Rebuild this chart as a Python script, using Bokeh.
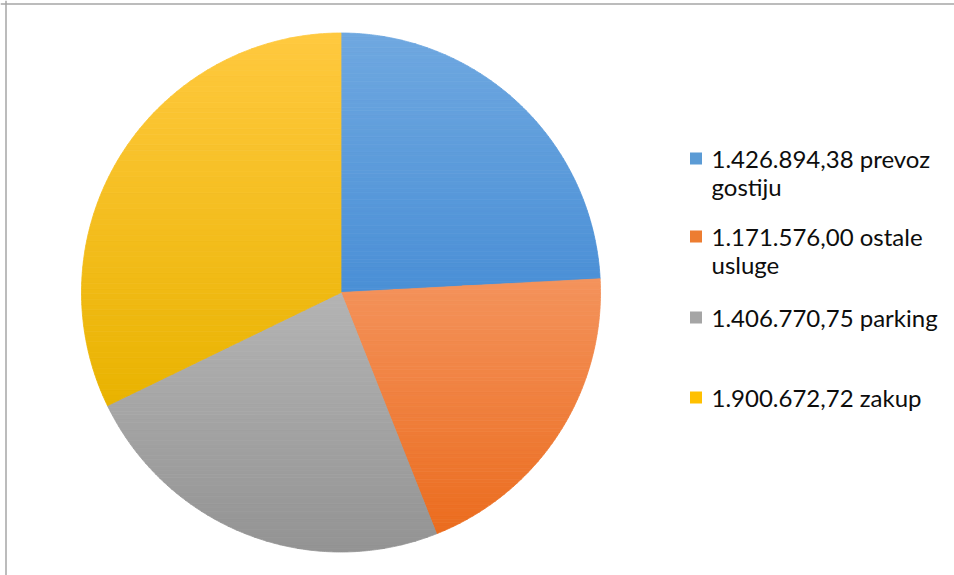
import numpy as np
from bokeh.plotting import figure
from bokeh.models import Range1d, Span
from bokeh.core.properties import value
from bokeh.embed import file_html
from bokeh.resources import INLINE

# ---------------- data ----------------
categories = ["prevoz gostiju", "ostale usluge", "parking", "zakup"]
amounts = [1426894.38, 1171576.00, 1406770.75, 1900672.72]

# ---------------- style ----------------
top_colors = ["#6FA8E0", "#F4935C", "#B4B4B4", "#FFC93F"]
bottom_colors = ["#4A8FD6", "#EB6C1E", "#939393", "#E9B300"]
mid_colors = ["#5B9BD5", "#ED7D31", "#A5A5A5", "#FFC000"]

W, H = 954, 575
OX, OY = 0, 0   # screen position of the figure's top-left corner


def fmt(v):
    s = f"{v:,.2f}"
    return s.replace(",", "X").replace(".", ",").replace("X", ".")


def hex2rgb(h):
    h = h.lstrip("#")
    return np.array([int(h[i:i + 2], 16) for i in (0, 2, 4)], dtype=float)


def rgb2hex(c):
    c = np.clip(np.round(c), 0, 255).astype(int)
    return "#%02x%02x%02x" % tuple(c)


def sx(x):
    return x - OX


def sy(y):
    return H - (y - OY)


def clip_half(poly, y0, keep_above):
    out = []
    n = len(poly)
    for i in range(n):
        a = poly[i]
        b = poly[(i + 1) % n]
        ina = a[1] >= y0 if keep_above else a[1] <= y0
        inb = b[1] >= y0 if keep_above else b[1] <= y0
        if ina:
            out.append(a)
        if ina != inb:
            t = (y0 - a[1]) / (b[1] - a[1])
            out.append((a[0] + t * (b[0] - a[0]), y0))
    return out


p = figure(width=W, height=H, output_backend="svg", toolbar_location=None,
           x_range=Range1d(0, W), y_range=Range1d(0, H), min_border=0)
p.axis.visible = False
p.grid.visible = False
p.outline_line_color = None
p.background_fill_color = "white"
p.border_fill_color = "white"

# frame (top and left edges visible in reference)
p.add_layout(Span(location=sy(3.5), dimension="width", line_color="#A6A6A6", line_width=1.5))
p.add_layout(Span(location=sx(5.5), dimension="height", line_color="#A6A6A6", line_width=1.5))

# ---------------- pie ----------------
cx, cy, R = sx(340.5), sy(292), 259.5
total = sum(amounts)
fracs = np.array(amounts) / total
cum = np.concatenate([[0], np.cumsum(fracs)])
start = np.pi / 2 - cum[:-1] * 2 * np.pi
end = np.pi / 2 - cum[1:] * 2 * np.pi

NB = 70
for i in range(len(amounts)):
    angs = np.linspace(start[i], end[i], 200)
    poly = [(cx, cy)] + [(cx + R * np.cos(a), cy + R * np.sin(a)) for a in angs]
    ys = [pt[1] for pt in poly]
    ymin, ymax = min(ys), max(ys)
    edges = np.linspace(ymin, ymax, NB + 1)
    ct, cb = hex2rgb(top_colors[i]), hex2rgb(bottom_colors[i])
    xs_l, ys_l, cols = [], [], []
    for k in range(NB):
        y0, y1 = edges[k], edges[k + 1]
        band = clip_half(clip_half(poly, y0, True), y1, False)
        if len(band) < 3:
            continue
        t = (ymax - 0.5 * (y0 + y1)) / (ymax - ymin)
        cols.append(rgb2hex(ct + (cb - ct) * t))
        xs_l.append([pt[0] for pt in band])
        ys_l.append([pt[1] for pt in band])
    p.patches(xs_l, ys_l, fill_color=cols, line_color=cols, line_width=0.8)

# ---------------- legend ----------------
legend_lines = [[fmt(a) + " " + c.split(" ")[0]] + c.split(" ")[1:] for a, c in zip(amounts, categories)]
row_y = [158, 236, 317, 397]
line_gap = 27.5
sq_x, tx = 695.5, 711

p.rect(x=[sx(sq_x)] * 4, y=[sy(y) for y in row_y], width=12, height=12,
       width_units="screen", height_units="screen",
       fill_color=mid_colors, line_color=None)

txt_x, txt_y, txt = [], [], []
for lines, y in zip(legend_lines, row_y):
    for j, ln in enumerate(lines):
        txt_x.append(sx(tx))
        txt_y.append(sy(y + j * line_gap))
        txt.append(ln)
p.text(x=txt_x, y=txt_y, text=txt, text_baseline="middle", text_align="left",
       text_font=value("Lato"), text_font_size="24px", text_color="#0d0d0d")

open("out.html", "w").write(file_html(p, INLINE))
